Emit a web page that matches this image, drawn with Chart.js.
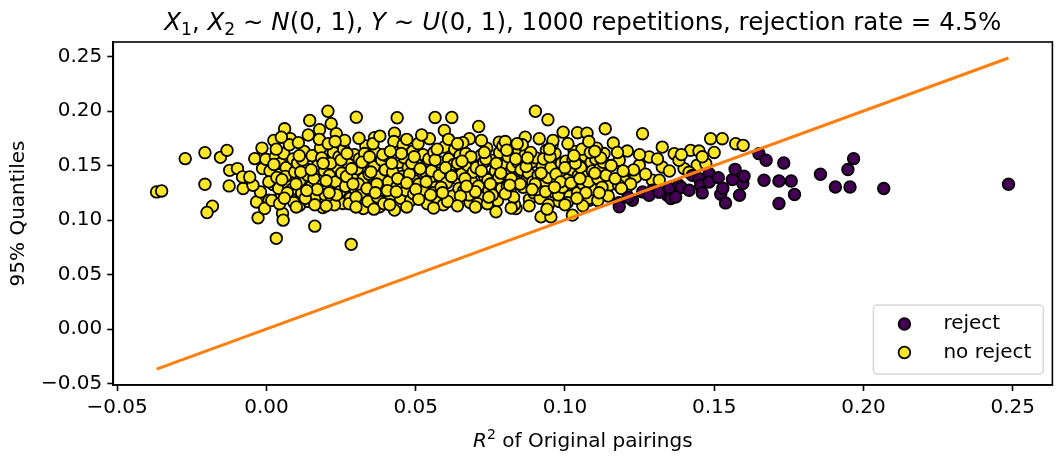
<!DOCTYPE html>
<html>
<head>
<meta charset="utf-8">
<script src="https://cdn.jsdelivr.net/npm/chart.js@4.4.0/dist/chart.umd.min.js"></script>
<style>
  html, body { margin: 0; padding: 0; background: #fff; overflow: hidden; }
  #wrap { width: 1056px; height: 457px; overflow: hidden; }
</style>
</head>
<body>
<div id="wrap"><canvas id="scatterChart" width="1060" height="457"></canvas></div>
<script>
/*--------- data ---------*/
// [R^2 of original pairing, 95% quantile]
const rejectPts = [
  [0.1181,0.1160],[0.1182,0.1121],[0.1226,0.1182],[0.1260,0.1258],[0.1293,0.1273],[0.1343,0.1228],
  [0.1349,0.1289],[0.1355,0.1197],[0.1382,0.1319],[0.1390,0.1298],[0.1371,0.1212],[0.1427,0.1410],
  [0.1449,0.1380],[0.1455,0.1319],[0.1460,0.1249],[0.1483,0.1426],[0.1483,0.1349],[0.1514,0.1389],
  [0.1522,0.1237],[0.1529,0.1292],[0.1538,0.1157],[0.1561,0.1371],[0.1570,0.1465],[0.1585,0.1228],
  [0.1596,0.1335],[0.1650,0.1609],[0.1674,0.1548],[0.1667,0.1365],[0.1717,0.1358],[0.1733,0.1523],
  [0.1758,0.1358],[0.1769,0.1234],[0.1717,0.1152],[0.1856,0.1420],[0.1906,0.1303],[0.1948,0.1463],
  [0.1955,0.1303],[0.1967,0.1563],[0.2068,0.1289],[0.2486,0.1328],[0.1282,0.1228],[0.1315,0.1255],
  [0.1416,0.1273],[0.1212,0.1209],[0.1600,0.1401]
];

const noRejectPts = [
  // outliers / edges
  [-0.0368,0.1258],[-0.0351,0.1267],[-0.0272,0.1563],[-0.0206,0.1618],[-0.0206,0.1328],[-0.0181,0.1127],
  [-0.0199,0.1069],[-0.0154,0.1575],[-0.0132,0.1639],[-0.0125,0.1313],[-0.0123,0.1456],[-0.0097,0.1472],
  [-0.0080,0.1395],[-0.0078,0.1289],[-0.0039,0.1563],[-0.0015,0.1660],[-0.0028,0.1020],[0.0033,0.0832],
  [-0.0033,0.1166],[-0.0020,0.1258],[0.0025,0.1730],[0.0061,0.1837],[-0.0013,0.1472],[-0.0002,0.1557],
  [0.0022,0.1325],[0.0039,0.1417],[0.0050,0.1228],[0.0054,0.1060],[0.0056,0.0999],[0.0009,0.1182],
  [-0.0006,0.1106],[-0.0045,0.1319],[-0.0056,0.1395],
  [0.0206,0.1998],[0.0301,0.1943],[0.0145,0.1913],[0.0217,0.1883],[0.0080,0.1746],[0.0178,0.1828],
  [0.0234,0.1792],[0.0438,0.1938],[0.0429,0.1797],[0.0162,0.0944],[0.0284,0.0777],[0.0111,0.1136],
  [0.0189,0.1115],[0.0256,0.1152],[0.0325,0.1106],[0.0379,0.1121],[0.0429,0.1091],[0.0546,0.1746],
  [0.0565,0.1941],[0.0621,0.1941],[0.0596,0.1822],[0.0362,0.1755],[0.0901,0.1998],[0.0943,0.1920],
  [0.0711,0.1858],[0.0994,0.1806],[0.1042,0.1801],[0.1074,0.1797],[0.1135,0.1837],[0.1162,0.1706],
  [0.0867,0.1760],[0.0914,0.1746],[0.0680,0.1746],[0.0780,0.1715],[0.0920,0.1029],[0.0953,0.1029],
  [0.1025,0.1045],[0.0836,0.1106],[0.0769,0.1075],[0.1260,0.1792],[0.1488,0.1746],[0.1527,0.1746],
  [0.1572,0.1700],[0.1597,0.1685],[0.1209,0.1633],[0.1326,0.1669],[0.1366,0.1609],[0.1421,0.1639],
  [0.1449,0.1633],[0.1137,0.1456],[0.1198,0.1426],[0.1204,0.1273],[0.1198,0.1365],[0.1326,0.1486],
  [0.1399,0.1472],[0.1443,0.1502],[0.1472,0.1517],[0.1293,0.1365],[0.1237,0.1395],[0.1282,0.1578],
  [0.1182,0.1548],[0.1249,0.1502],[0.1382,0.1548],[0.1416,0.1438],[0.1316,0.1365],[0.1148,0.1319],
  [0.1115,0.1228],[0.1081,0.1182],[0.1048,0.1273],
  [0.1230,0.1460],[0.1270,0.1420],[0.1310,0.1560],[0.1350,0.1450],[0.1390,0.1600],[0.1460,0.1580],
  [0.1500,0.1620],[0.1250,0.1600],[0.1180,0.1320],[0.1220,0.1330],
  // dense core
  [0.0012,0.1450],[0.0030,0.1580],[0.0041,0.1290],[0.0018,0.1180],[0.0047,0.1520],[0.0008,0.1350],[0.0035,0.1390],[0.0044,0.1150],
  [0.0058,0.1610],[0.0066,0.1480],[0.0072,0.1330],[0.0081,0.1210],[0.0089,0.1560],[0.0063,0.1400],[0.0095,0.1440],[0.0077,0.1690],[0.0092,0.1160],[0.0085,0.1280],
  [0.0104,0.1520],[0.0112,0.1360],[0.0118,0.1250],[0.0126,0.1630],[0.0133,0.1470],[0.0141,0.1170],[0.0107,0.1710],[0.0138,0.1410],[0.0147,0.1300],[0.0121,0.1550],
  [0.0153,0.1590],[0.0159,0.1380],[0.0166,0.1220],[0.0172,0.1500],[0.0181,0.1660],[0.0188,0.1320],[0.0194,0.1450],[0.0162,0.1140],[0.0177,0.1740],[0.0197,0.1230],
  [0.0203,0.1540],[0.0211,0.1410],[0.0218,0.1190],[0.0224,0.1620],[0.0232,0.1350],[0.0239,0.1480],[0.0246,0.1260],[0.0207,0.1700],[0.0228,0.1140],[0.0243,0.1580],
  [0.0252,0.1430],[0.0259,0.1650],[0.0265,0.1310],[0.0273,0.1520],[0.0281,0.1200],[0.0288,0.1390],[0.0295,0.1600],[0.0262,0.1730],[0.0277,0.1150],[0.0298,0.1280],
  [0.0304,0.1470],[0.0311,0.1560],[0.0317,0.1240],[0.0325,0.1380],[0.0333,0.1680],[0.0340,0.1170],[0.0347,0.1510],[0.0308,0.1330],[0.0329,0.1610],[0.0344,0.1420],
  [0.0353,0.1300],[0.0360,0.1490],[0.0366,0.1620],[0.0372,0.1210],[0.0379,0.1400],[0.0386,0.1550],[0.0393,0.1150],[0.0357,0.1700],[0.0383,0.1270],[0.0398,0.1460],
  [0.0402,0.1590],[0.0409,0.1350],[0.0416,0.1230],[0.0423,0.1440],[0.0431,0.1660],[0.0438,0.1310],[0.0445,0.1530],[0.0413,0.1140],[0.0427,0.1720],[0.0449,0.1200],
  [0.0455,0.1400],[0.0462,0.1570],[0.0468,0.1270],[0.0475,0.1480],[0.0483,0.1180],[0.0490,0.1630],[0.0497,0.1360],[0.0458,0.1690],[0.0479,0.1420],[0.0493,0.1240],
  [0.0504,0.1510],[0.0511,0.1330],[0.0518,0.1210],[0.0525,0.1600],[0.0532,0.1440],[0.0539,0.1150],[0.0546,0.1370],[0.0508,0.1700],[0.0528,0.1270],[0.0544,0.1560],
  [0.0553,0.1450],[0.0561,0.1620],[0.0567,0.1300],[0.0574,0.1190],[0.0582,0.1530],[0.0589,0.1390],[0.0596,0.1670],[0.0557,0.1250],[0.0579,0.1410],[0.0593,0.1140],
  [0.0603,0.1340],[0.0610,0.1560],[0.0617,0.1460],[0.0624,0.1220],[0.0631,0.1650],[0.0638,0.1380],[0.0645,0.1290],[0.0607,0.1170],[0.0628,0.1510],[0.0648,0.1590],
  [0.0654,0.1420],[0.0661,0.1270],[0.0668,0.1610],[0.0675,0.1500],[0.0682,0.1160],[0.0689,0.1350],[0.0696,0.1560],[0.0658,0.1710],[0.0679,0.1230],[0.0693,0.1440],
  [0.0703,0.1480],[0.0710,0.1310],[0.0717,0.1590],[0.0724,0.1200],[0.0731,0.1400],[0.0738,0.1660],[0.0745,0.1270],[0.0707,0.1150],[0.0728,0.1530],[0.0742,0.1370],
  [0.0753,0.1550],[0.0760,0.1340],[0.0767,0.1450],[0.0774,0.1180],[0.0781,0.1620],[0.0788,0.1290],[0.0795,0.1500],[0.0757,0.1230],[0.0778,0.1390],[0.0792,0.1680],
  [0.0803,0.1420],[0.0810,0.1580],[0.0817,0.1260],[0.0824,0.1490],[0.0831,0.1140],[0.0838,0.1350],[0.0845,0.1640],[0.0807,0.1310],[0.0828,0.1210],[0.0842,0.1530],
  [0.0853,0.1460],[0.0860,0.1300],[0.0867,0.1600],[0.0874,0.1380],[0.0881,0.1190],[0.0888,0.1530],[0.0895,0.1250],[0.0857,0.1690],[0.0878,0.1430],[0.0892,0.1350],
  [0.0903,0.1570],[0.0910,0.1410],[0.0917,0.1200],[0.0924,0.1490],[0.0931,0.1320],[0.0938,0.1640],[0.0945,0.1140],[0.0907,0.1280],[0.0928,0.1560],[0.0942,0.1390],
  [0.0953,0.1480],[0.0960,0.1260],[0.0967,0.1610],[0.0974,0.1350],[0.0981,0.1170],[0.0988,0.1520],[0.0995,0.1430],[0.0957,0.1690],[0.0978,0.1230],[0.0992,0.1300],
  [0.1003,0.1540],[0.1010,0.1370],[0.1017,0.1220],[0.1024,0.1460],[0.1031,0.1630],[0.1038,0.1300],[0.1045,0.1410],[0.1008,0.1160],[0.1027,0.1560],[0.1042,0.1250],
  [0.1053,0.1480],[0.1060,0.1330],[0.1067,0.1590],[0.1074,0.1400],[0.1081,0.1200],[0.1088,0.1530],[0.1095,0.1280],[0.1057,0.1650],[0.1078,0.1350],[0.1092,0.1450],
  [0.1103,0.1560],[0.1110,0.1380],[0.1117,0.1470],[0.1124,0.1300],[0.1131,0.1610],[0.1138,0.1410],[0.1145,0.1220],[0.1106,0.1660],[0.1128,0.1530],
  [0.1155,0.1500],[0.1168,0.1380],[0.1176,0.1620],[0.1189,0.1290],[0.1195,0.1450],
  // more of the core, filling between the rows above
  [0.0025,0.1510],[0.0052,0.1370],[0.0070,0.1250],[0.0099,0.1330],[0.0115,0.1440],[0.0130,0.1200],[0.0150,0.1460],[0.0170,0.1280],
  [0.0185,0.1570],[0.0200,0.1360],[0.0215,0.1520],[0.0235,0.1230],[0.0250,0.1550],[0.0268,0.1400],[0.0285,0.1470],[0.0300,0.1210],
  [0.0320,0.1530],[0.0337,0.1290],[0.0350,0.1440],[0.0370,0.1330],[0.0390,0.1600],[0.0405,0.1270],[0.0420,0.1520],[0.0440,0.1380],
  [0.0452,0.1610],[0.0470,0.1340],[0.0487,0.1520],[0.0500,0.1280],[0.0515,0.1470],[0.0535,0.1350],[0.0550,0.1230],[0.0565,0.1550],
  [0.0585,0.1300],[0.0600,0.1480],[0.0620,0.1400],[0.0640,0.1520],[0.0650,0.1220],[0.0665,0.1380],[0.0685,0.1580],[0.0700,0.1260],
  [0.0720,0.1450],[0.0735,0.1560],[0.0750,0.1330],[0.0770,0.1520],[0.0785,0.1430],[0.0800,0.1240],[0.0820,0.1380],[0.0835,0.1560],
  [0.0850,0.1330],[0.0870,0.1490],[0.0885,0.1620],[0.0900,0.1330],[0.0920,0.1430],[0.0935,0.1260],[0.0950,0.1580],[0.0970,0.1420],
  [0.0985,0.1350],[0.1000,0.1480],[0.1020,0.1340],[0.1035,0.1520],[0.1050,0.1380],[0.1070,0.1250],[0.1085,0.1620],[0.1100,0.1430],
  [0.1120,0.1570],
  [0.0050,0.1760],[0.0140,0.1780],[0.0230,0.1720],[0.0310,0.1750],[0.0380,0.1770],[0.0470,0.1740],[0.0520,0.1780],[0.0610,0.1740],
  [0.0640,0.1700],[0.0720,0.1730],[0.0800,0.1720],[0.0840,0.1700],[0.0960,0.1730],[0.1010,0.1700],[0.1080,0.1720],
  [0.0100,0.1120],[0.0200,0.1130],[0.0300,0.1120],[0.0360,0.1100],[0.0470,0.1120],[0.0560,0.1110],[0.0640,0.1130],[0.0700,0.1120],
  [0.0740,0.1150],[0.0820,0.1110],[0.0880,0.1130],[0.0940,0.1100],[0.1000,0.1140],[0.1060,0.1130],[0.1110,0.1180],
  [0.0033,0.1650],[0.0110,0.1590],[0.0190,0.1520],[0.0270,0.1610],[0.0345,0.1580],[0.0415,0.1630],[0.0495,0.1580],[0.0572,0.1650],
  [0.0655,0.1540],[0.0730,0.1620],[0.0805,0.1640],[0.0875,0.1570],[0.0948,0.1650],[0.1030,0.1590],[0.1100,0.1630],
  [0.0060,0.1200],[0.0135,0.1270],[0.0210,0.1250],[0.0290,0.1330],[0.0365,0.1250],[0.0435,0.1260],[0.0510,0.1190],[0.0590,0.1250],
  [0.0670,0.1310],[0.0745,0.1210],[0.0815,0.1320],[0.0890,0.1280],[0.0965,0.1300],[0.1040,0.1200],[0.1115,0.1250]
];

// y = x reference line, from smallest to largest R^2
const diagEnds = [-0.0368, 0.2486];

const xTicks = [-0.05, 0, 0.05, 0.10, 0.15, 0.20, 0.25];
const yTicks = [-0.05, 0, 0.05, 0.10, 0.15, 0.20, 0.25];
const axisMin = -0.0513;
const axisMax = 0.2633;

const legendItems = [
  { label: 'reject', color: '#440154' },
  { label: 'no reject', color: '#fde725' }
];

/*--------- helpers ---------*/
const FONT = "'DejaVu Sans', sans-serif";
const FS = 20;
const PT_R = 5.8;

function fmtTick(v) {
  return (v < 0 ? '\u2212' : '') + Math.abs(v).toFixed(2);
}

function toXY(arr) {
  return arr.map(p => ({ x: p[0], y: p[1] }));
}

// draw text made of pieces: n = normal, i = italic, sub / sup = small raised or lowered
function richText(ctx, parts, cx, y, size) {
  const fontFor = s => {
    if (s === 'i') return 'italic ' + size + 'px ' + FONT;
    if (s === 'sub' || s === 'sup') return (size * 0.7) + 'px ' + FONT;
    return size + 'px ' + FONT;
  };
  let total = 0;
  parts.forEach(p => { ctx.font = fontFor(p[1]); total += ctx.measureText(p[0]).width; });
  let x = cx - total / 2;
  ctx.textBaseline = 'alphabetic';
  ctx.textAlign = 'left';
  parts.forEach(p => {
    ctx.font = fontFor(p[1]);
    let dy = 0;
    if (p[1] === 'sub') dy = size * 0.22;
    if (p[1] === 'sup') dy = -size * 0.42;
    ctx.fillText(p[0], x, y + dy);
    x += ctx.measureText(p[0]).width;
  });
}

const decorPlugin = {
  id: 'decor',
  afterDraw(chart) {
    const ctx = chart.ctx;
    const a = chart.chartArea;
    ctx.save();
    // frame
    ctx.strokeStyle = '#000';
    ctx.lineWidth = 1.6;
    ctx.strokeRect(a.left, a.top, a.right - a.left, a.bottom - a.top);

    ctx.fillStyle = '#000';
    const cx = (a.left + a.right) / 2;
    richText(ctx, [
      ['X', 'i'], ['1', 'sub'], [', ', 'n'], ['X', 'i'], ['2', 'sub'], [' \u223C ', 'n'],
      ['N', 'i'], ['(0, 1)', 'n'], [', ', 'n'], ['Y', 'i'], [' \u223C ', 'n'], ['U', 'i'],
      ['(0, 1)', 'n'], [', 1000 repetitions, rejection rate = 4.5%', 'n']
    ], cx, a.top - 12, 24.5);

    richText(ctx, [['R', 'i'], ['2', 'sup'], [' of Original pairings', 'n']], cx, a.bottom + 62, FS);

    // legend, lower right inside the axes
    const bw = 170, bh = 69;
    const bx = a.right - 9 - bw, by = a.bottom - 11 - bh;
    ctx.beginPath();
    ctx.roundRect(bx, by, bw, bh, 4);
    ctx.fillStyle = 'rgba(255,255,255,0.8)';
    ctx.fill();
    ctx.strokeStyle = '#d6d6d6';
    ctx.lineWidth = 1.4;
    ctx.stroke();
    legendItems.forEach((it, i) => {
      const ry = by + 19 + i * 28.5;
      ctx.beginPath();
      ctx.arc(bx + 31, ry, PT_R, 0, Math.PI * 2);
      ctx.fillStyle = it.color;
      ctx.fill();
      ctx.strokeStyle = '#000';
      ctx.lineWidth = 1.8;
      ctx.stroke();
      ctx.fillStyle = '#000';
      ctx.font = FS + 'px ' + FONT;
      ctx.textAlign = 'left';
      ctx.textBaseline = 'middle';
      ctx.fillText(it.label, bx + 70, ry);
    });
    ctx.restore();
  }
};

/*--------- chart ---------*/
const ctx = document.getElementById('scatterChart').getContext('2d');
const scatterChart = new Chart(ctx, {
  type: 'scatter',
  data: {
    datasets: [
      {
        label: 'reject',
        data: toXY(rejectPts),
        backgroundColor: '#440154',
        borderColor: '#000',
        borderWidth: 1.8,
        pointRadius: PT_R,
        order: 1
      },
      {
        label: 'no reject',
        data: toXY(noRejectPts),
        backgroundColor: '#fde725',
        borderColor: '#000',
        borderWidth: 1.8,
        pointRadius: PT_R,
        order: 2
      },
      {
        type: 'line',
        label: 'diag',
        data: diagEnds.map(v => ({ x: v, y: v })),
        borderColor: '#ff7f0e',
        borderWidth: 3,
        pointRadius: 0,
        fill: false,
        order: 0
      }
    ]
  },
  options: {
    responsive: false,
    animation: false,
    layout: { padding: { top: 42, right: 0, bottom: 32, left: 7 } },
    plugins: {
      legend: { display: false },
      tooltip: { enabled: false },
      title: { display: false }
    },
    scales: {
      x: {
        type: 'linear',
        min: axisMin,
        max: axisMax,
        afterBuildTicks: ax => { ax.ticks = xTicks.map(v => ({ value: v })); },
        ticks: { callback: fmtTick, color: '#000', font: { family: FONT, size: FS }, padding: 5, maxRotation: 0, autoSkip: false },
        grid: { drawOnChartArea: false, drawTicks: true, tickLength: 6, tickWidth: 1.6, tickColor: '#000' },
        border: { display: true, color: '#000', width: 1.6 }
      },
      y: {
        type: 'linear',
        min: axisMin,
        max: axisMax,
        afterBuildTicks: ax => { ax.ticks = yTicks.map(v => ({ value: v })); },
        ticks: { callback: fmtTick, color: '#000', font: { family: FONT, size: FS }, padding: 5, autoSkip: false },
        grid: { drawOnChartArea: false, drawTicks: true, tickLength: 6, tickWidth: 1.6, tickColor: '#000' },
        border: { display: true, color: '#000', width: 1.6 },
        title: { display: true, text: '95% Quantiles', color: '#000', font: { family: FONT, size: FS }, padding: { top: 0, bottom: 5 } }
      }
    }
  },
  plugins: [decorPlugin]
});
</script>
</body>
</html>
